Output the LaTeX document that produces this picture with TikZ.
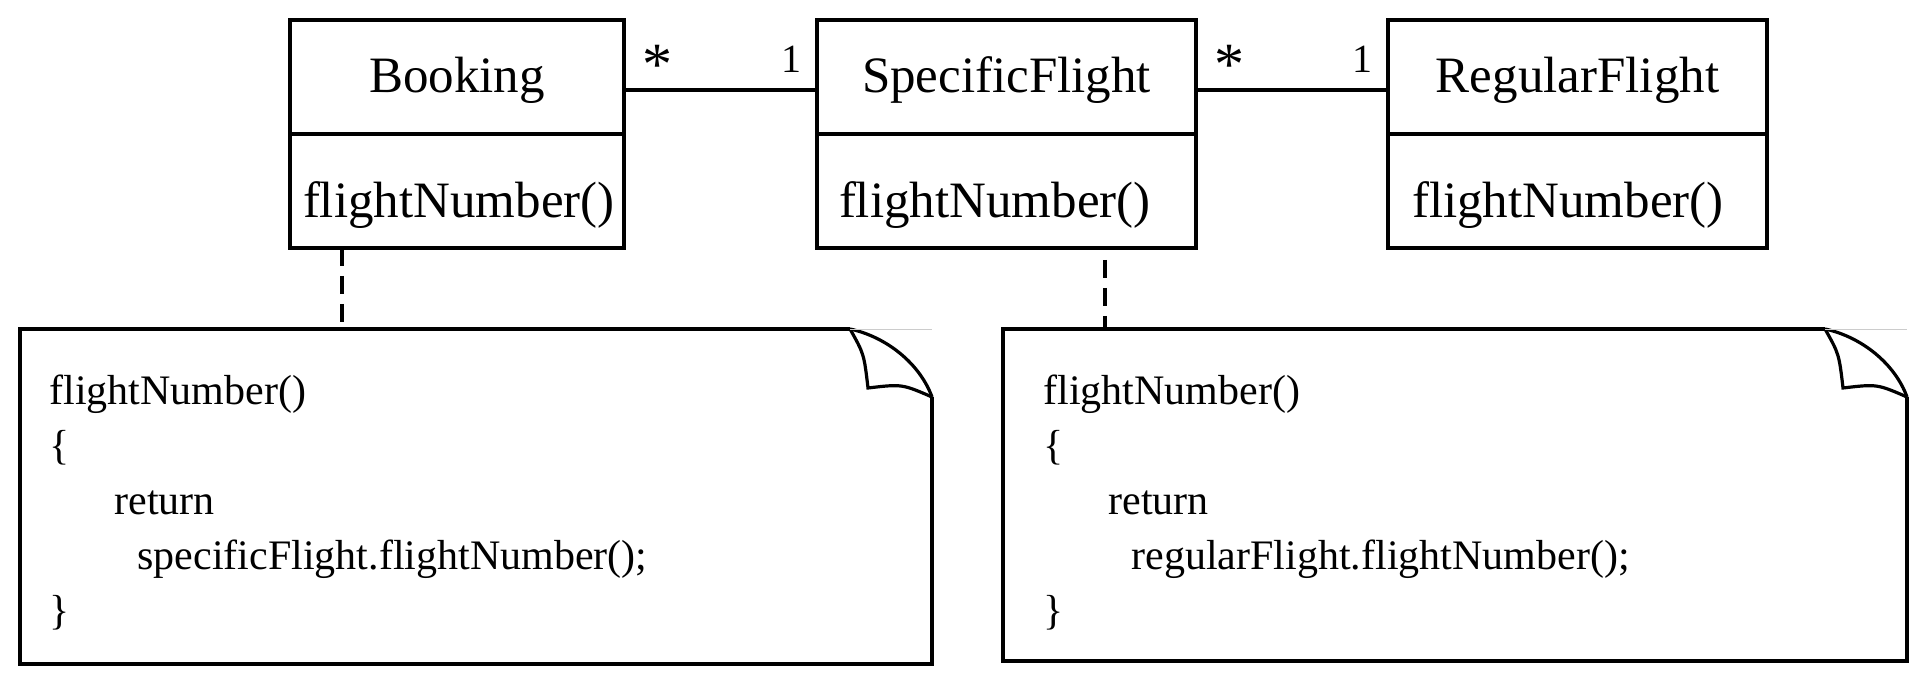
\documentclass[tikz,border=0pt]{standalone}
\usepackage{fontspec}
\setmainfont{Liberation Serif}
\begin{document}
\begin{tikzpicture}[x=0.5pt,y=-0.5pt,line width=1.6pt,
  classhead/.style={draw,minimum height=57pt,inner sep=0pt,outer sep=0pt,text height=36.5pt,text depth=20.5pt,font=\fontsize{25.5}{30}\selectfont},
  classbody/.style={draw,anchor=north,align=left,inner ysep=0pt,outer sep=0pt,text height=42pt,text depth=15pt,font=\fontsize{25.5}{30}\selectfont},
  mult/.style={inner xsep=7pt,inner ysep=8pt,font=\fontsize{20}{24}\selectfont},
  many/.style={inner xsep=8.5pt,inner ysep=1.75pt,font=\fontsize{30}{36}\selectfont},
  notetext/.style={anchor=north west,align=left,inner sep=0pt,font=\fontsize{21}{27.5}\selectfont},
  link/.style={dashed,dash pattern=on 9pt off 5pt}]
 \useasboundingbox (0,0) rectangle (1930,688);
 \node[classhead,minimum width=167pt] (booking) at (457,77) {Booking};
 \node[classbody,minimum width=167pt,inner xsep=6.5pt,text width=154pt] (bookingops) at (booking.south) {flightNumber()};
 \node[classhead,minimum width=189.5pt] (specific) at (1006.5,77) {SpecificFlight};
 \node[classbody,minimum width=189.5pt,inner xsep=11pt,text width=167.5pt] (specificops) at (specific.south) {flightNumber()};
 \node[classhead,minimum width=189.5pt] (regular) at (1577.5,77) {RegularFlight};
 \node[classbody,minimum width=189.5pt,inner xsep=12pt,text width=165.5pt] (regularops) at (regular.south) {flightNumber()};
 \draw ([yshift=-6.5pt]booking.east) -- node[many,at start,anchor=south west]{*} node[mult,at end,anchor=south east]{1} ([yshift=-6.5pt]specific.west);
 \draw ([yshift=-6.5pt]specific.east) -- node[many,at start,anchor=south west]{*} node[mult,at end,anchor=south east]{1} ([yshift=-6.5pt]regular.west);
 \foreach \l/\r/\b in {20/932/664,1003/1907/661}{
  \draw (\r-82,329) -- (\l,329) -- (\l,\b) -- (\r,\b) -- (\r,397);
  \draw (\r-82,329) .. controls (\r-45,337) and (\r-12,364) .. (\r,397);
  \draw (\r-82,329) .. controls (\r-68,354) .. (\r-64,388) .. controls (\r-30,384) .. (\r,397);
  \draw[gray!40,line width=0.4pt] (\r-82,329) -- (\r,329);
 }
 \node[notetext] (bookingnote) at (48,373) {flightNumber()\\\{\\\hspace*{32.5pt}return\\\hspace*{44pt}specificFlight.flightNumber();\\\}};
 \node[notetext] (specificnote) at (1042,373) {flightNumber()\\\{\\\hspace*{32.5pt}return\\\hspace*{44pt}regularFlight.flightNumber();\\\}};
 \coordinate (bookingpin) at (342,329);
 \coordinate (specificpin) at (1105,329);
 \draw[link] (bookingops.south -| bookingpin) -- (bookingpin);
 \draw[link] ([yshift=-6pt]specificops.south -| specificpin) -- (specificpin);
\end{tikzpicture}
\end{document}
